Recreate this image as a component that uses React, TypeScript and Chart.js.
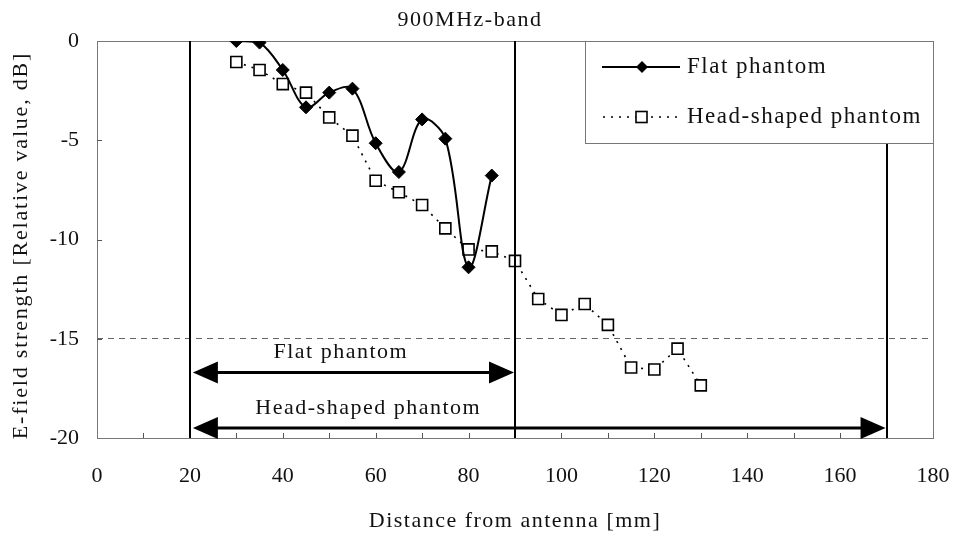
import React, { useEffect, useRef } from 'react';
import { Chart, registerables } from 'chart.js';

Chart.register(...registerables);

// ---- data ----
const flatDistances = [30, 35, 40, 45, 50, 55, 60, 65, 70, 75, 80, 85];
const flatValues = [0, -0.08, -1.46, -3.34, -2.6, -2.4, -5.15, -6.6, -3.95, -4.92, -11.4, -6.78];

const headDistances = [30, 35, 40, 45, 50, 55, 60, 65, 70, 75, 80, 85, 90, 95, 100, 105, 110, 115, 120, 125, 130];
const headValues = [-1.06, -1.46, -2.17, -2.6, -3.85, -4.77, -7.04, -7.62, -8.26, -9.44, -10.5, -10.6, -11.08, -13.0, -13.8, -13.25, -14.3, -16.45, -16.55, -15.5, -17.35];

const xTickValues = [0, 20, 40, 60, 80, 100, 120, 140, 160, 180];
const yTickValues = [0, -5, -10, -15, -20];

const boundaryLines = [20, 90, 170];
const flatRange = [20, 90];
const headRange = [20, 170];
const flatArrowY = -16.7;
const headArrowY = -19.5;
const flatLabelPos = { x: 52.5, y: -15.7 };
const headLabelPos = { x: 58.4, y: -18.5 };
const dashedLevel = -15;

const titleText = '900MHz-band';
const xTitle = 'Distance from antenna [mm]';
const yTitle = 'E-field strength [Relative value, dB]';
const flatLabel = 'Flat phantom';
const headLabel = 'Head-shaped phantom';

const FONT = "'Liberation Serif', serif";

function drawText(ctx: any, text: string, x: number, y: number, size: number, align: string, spacing: number, rot = 0) {
  ctx.save();
  ctx.translate(x, y);
  if (rot) ctx.rotate(rot);
  ctx.font = `${size}px ${FONT}`;
  ctx.fillStyle = '#111';
  ctx.textBaseline = 'middle';
  ctx.textAlign = align;
  try { ctx.letterSpacing = `${spacing}px`; } catch (e) { /* ignore */ }
  ctx.fillText(text, 0, 0);
  ctx.restore();
}

function drawArrow(ctx: any, x1: number, x2: number, y: number) {
  const head = 25;
  const half = 11;
  ctx.save();
  ctx.strokeStyle = '#000';
  ctx.fillStyle = '#000';
  ctx.lineWidth = 3;
  ctx.beginPath();
  ctx.moveTo(x1 + head - 2, y);
  ctx.lineTo(x2 - head + 2, y);
  ctx.stroke();
  ctx.beginPath();
  ctx.moveTo(x1, y);
  ctx.lineTo(x1 + head, y - half);
  ctx.lineTo(x1 + head, y + half);
  ctx.closePath();
  ctx.fill();
  ctx.beginPath();
  ctx.moveTo(x2, y);
  ctx.lineTo(x2 - head, y - half);
  ctx.lineTo(x2 - head, y + half);
  ctx.closePath();
  ctx.fill();
  ctx.restore();
}

const overlayPlugin = {
  id: 'overlay',
  beforeDatasetsDraw(chart: any) {
    const { ctx, chartArea: a, scales } = chart;
    const xs = scales.x;
    const ys = scales.y;
    ctx.save();
    ctx.strokeStyle = '#777';
    ctx.lineWidth = 1;
    ctx.strokeRect(Math.round(a.left) + 0.5, Math.round(a.top) + 0.5, Math.round(a.right - a.left), Math.round(a.bottom - a.top));
    ctx.strokeStyle = '#555';
    for (let v = 10; v < 180; v += 10) {
      const px = Math.round(xs.getPixelForValue(v)) + 0.5;
      ctx.beginPath();
      ctx.moveTo(px, a.bottom);
      ctx.lineTo(px, a.bottom - 5);
      ctx.stroke();
    }
    for (let v = -5; v > -20; v -= 5) {
      const py = Math.round(ys.getPixelForValue(v)) + 0.5;
      ctx.beginPath();
      ctx.moveTo(a.left, py);
      ctx.lineTo(a.left + 5, py);
      ctx.stroke();
    }
    ctx.restore();
  },
  afterDatasetsDraw(chart: any) {
    const { ctx, chartArea: a, scales } = chart;
    const xs = scales.x;
    const ys = scales.y;
    ctx.save();
    ctx.strokeStyle = '#000';
    ctx.lineWidth = 2;
    boundaryLines.forEach((v) => {
      const px = Math.round(xs.getPixelForValue(v));
      ctx.beginPath();
      ctx.moveTo(px, a.top);
      ctx.lineTo(px, a.bottom);
      ctx.stroke();
    });
    ctx.restore();

    drawArrow(ctx, xs.getPixelForValue(flatRange[0]) + 3, xs.getPixelForValue(flatRange[1]) - 1, ys.getPixelForValue(flatArrowY));
    drawArrow(ctx, xs.getPixelForValue(headRange[0]) + 3, xs.getPixelForValue(headRange[1]) - 1, ys.getPixelForValue(headArrowY));

    drawText(ctx, flatLabel, xs.getPixelForValue(flatLabelPos.x), ys.getPixelForValue(flatLabelPos.y), 22, 'center', 1.5);
    drawText(ctx, headLabel, xs.getPixelForValue(headLabelPos.x), ys.getPixelForValue(headLabelPos.y), 22, 'center', 1.5);
  },
  afterDraw(chart: any) {
    const { ctx, chartArea: a } = chart;
    const lx = 585, ly = Math.round(a.top), lw = Math.round(a.right) - 585, lh = 102;
    ctx.save();
    ctx.fillStyle = '#fff';
    ctx.fillRect(lx, ly, lw, lh);
    ctx.strokeStyle = '#777';
    ctx.lineWidth = 1;
    ctx.strokeRect(lx + 0.5, ly + 0.5, lw, lh);
    const y1 = ly + 26;
    ctx.strokeStyle = '#000';
    ctx.lineWidth = 2;
    ctx.beginPath();
    ctx.moveTo(602, y1);
    ctx.lineTo(680, y1);
    ctx.stroke();
    ctx.fillStyle = '#000';
    ctx.beginPath();
    ctx.moveTo(642, y1 - 6);
    ctx.lineTo(648, y1);
    ctx.lineTo(642, y1 + 6);
    ctx.lineTo(636, y1);
    ctx.closePath();
    ctx.fill();
    const y2 = ly + 76;
    ctx.lineWidth = 1.6;
    ctx.setLineDash([2, 6]);
    ctx.beginPath();
    ctx.moveTo(603, y2);
    ctx.lineTo(677, y2);
    ctx.stroke();
    ctx.setLineDash([]);
    ctx.fillStyle = '#fff';
    ctx.fillRect(636, y2 - 5.5, 11, 11);
    ctx.strokeRect(636, y2 - 5.5, 11, 11);
    ctx.restore();
    drawText(ctx, flatLabel, 687, y1, 23, 'left', 1.5);
    drawText(ctx, headLabel, 687, y2, 23, 'left', 1.5);

    drawText(ctx, titleText, 470, 20, 22, 'center', 1.5);
    drawText(ctx, xTitle, (a.left + a.right) / 2, 521, 22, 'center', 1.5);
    drawText(ctx, yTitle, 21, (a.top + a.bottom) / 2 + 6, 22, 'center', 1.8, -Math.PI / 2);
  },
};

export default function App() {
  const canvasRef = useRef<HTMLCanvasElement | null>(null);

  useEffect(() => {
    const canvas = canvasRef.current;
    if (!canvas) return;
    let chart: any = null;
    let cancelled = false;
    const build = () => {
      if (cancelled) return;
      chart = new Chart(canvas, {
        type: 'line',
        data: {
          datasets: [
            {
              label: flatLabel,
              data: flatDistances.map((x, i) => ({ x, y: flatValues[i] })),
              borderColor: '#000',
              borderWidth: 2,
              pointStyle: 'rectRot',
              pointRadius: 6.5,
              pointBackgroundColor: '#000',
              pointBorderColor: '#000',
              pointBorderWidth: 1,
              tension: 0.35,
              fill: false,
            },
            {
              label: headLabel,
              data: headDistances.map((x, i) => ({ x, y: headValues[i] })),
              borderColor: '#000',
              borderWidth: 1.6,
              borderDash: [2, 6],
              pointStyle: 'rect',
              pointRadius: 7.8,
              pointBackgroundColor: '#fff',
              pointBorderColor: '#000',
              pointBorderWidth: 1.6,
              tension: 0,
              fill: false,
            },
          ],
        },
        options: {
          animation: false,
          responsive: false,
          devicePixelRatio: 1,
          layout: { padding: { top: 41, right: 21, left: 0, bottom: 0 } },
          plugins: {
            legend: { display: false },
            title: { display: false },
            tooltip: { enabled: false },
          },
          scales: {
            x: {
              type: 'linear',
              min: 0,
              max: 180,
              afterBuildTicks: (s: any) => {
                s.ticks = xTickValues.map((v) => ({ value: v }));
              },
              ticks: {
                font: { family: FONT, size: 22 },
                color: '#111',
                padding: 25,
                maxRotation: 0,
                autoSkip: false,
              },
              grid: { display: false, drawTicks: false },
              border: { display: false },
              afterFit: (s: any) => {
                s.height = 97;
                s.paddingLeft = 0;
                s.paddingRight = 0;
              },
            },
            y: {
              type: 'linear',
              min: -20,
              max: 0,
              afterBuildTicks: (s: any) => {
                s.ticks = yTickValues.map((v) => ({ value: v }));
              },
              ticks: {
                font: { family: FONT, size: 22 },
                color: '#111',
                padding: 18,
                autoSkip: false,
              },
              grid: {
                drawTicks: false,
                lineWidth: 1,
                color: (c: any) => (c.tick && c.tick.value === dashedLevel ? '#666' : 'rgba(0,0,0,0)'),
              },
              border: { display: false, dash: [6, 5] },
              afterFit: (s: any) => {
                s.width = 97;
                s.paddingTop = 0;
                s.paddingBottom = 0;
              },
            },
          },
        },
        plugins: [overlayPlugin],
      } as any);
    };
    const fonts: any = (document as any).fonts;
    if (fonts && fonts.load) {
      Promise.all([fonts.load("22px 'Liberation Serif'"), fonts.load("23px 'Liberation Serif'")])
        .catch(() => null)
        .then(() => build());
    } else {
      build();
    }
    return () => {
      cancelled = true;
      if (chart) chart.destroy();
    };
  }, []);

  return (
    <div style={{ position: 'fixed', left: 0, top: 0, width: 954, height: 535, background: '#fff' }}>
      <canvas ref={canvasRef} width={954} height={535} style={{ display: 'block' }} />
    </div>
  );
}
